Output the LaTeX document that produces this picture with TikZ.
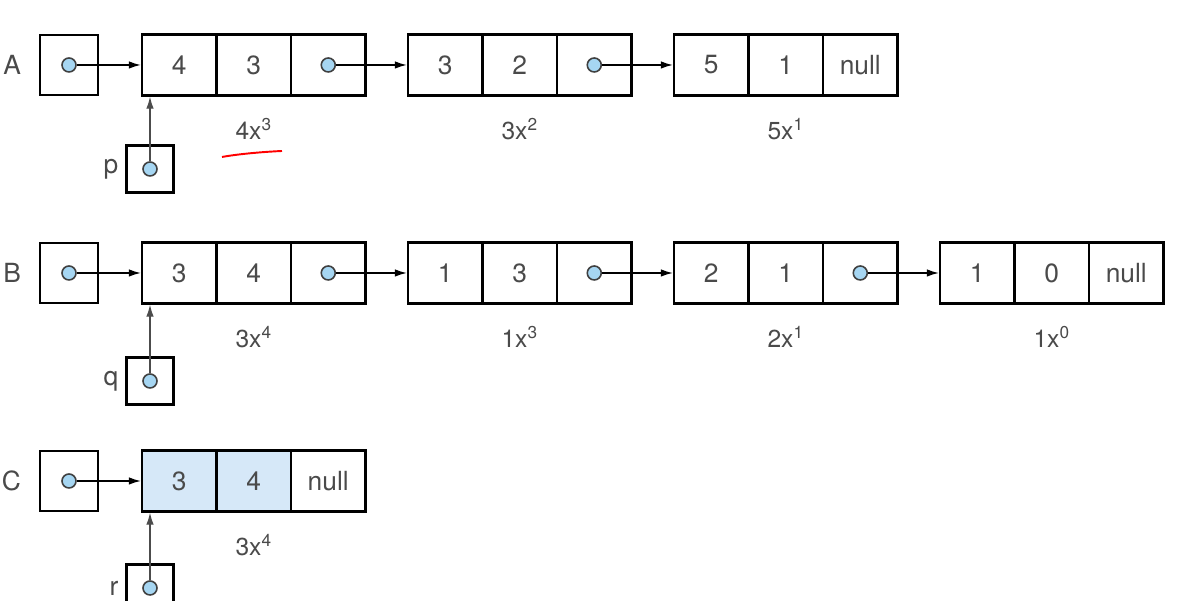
\documentclass[tikz,border=0pt]{standalone}
\usepackage{fontspec}
\setmainfont{TeX Gyre Heros}
\usetikzlibrary{positioning,arrows.meta}
\definecolor{txtgray}{HTML}{4A4A4A}
\definecolor{dotblue}{HTML}{A6D6F2}
\definecolor{cellblue}{HTML}{D6E8F8}
\begin{document}
\begin{tikzpicture}[
    cell/.style={draw,line width=1.3pt,minimum width=1.49cm,minimum height=1.22cm,
      inner sep=0pt,text=txtgray,font=\fontsize{15}{15}\selectfont},
    headbox/.style={draw,line width=1.1pt,minimum width=1.16cm,minimum height=1.2cm},
    ptrbox/.style={draw,line width=1.2pt,minimum size=0.94cm},
    dot/.style={circle,draw=black!75,fill=dotblue,line width=0.9pt,minimum size=0.28cm,inner sep=0pt},
    link/.style={-{Latex[length=2.4mm,width=1.5mm]},line width=0.8pt},
    uplink/.style={-{Latex[length=2.4mm,width=1.5mm]},line width=0.7pt,black!70},
    rowname/.style={text=txtgray,font=\fontsize{15}{15}\selectfont,inner sep=1pt},
    term/.style={text=txtgray,font=\fontsize{14}{14}\selectfont}]
  \useasboundingbox (0,0) rectangle (23.7,12.02);
  % head pointers
  \foreach \r/\y in {A/10.72,B/6.56,C/2.40}{
    \node[headbox] (\r) at (1.38,\y) {};
    \node[rowname,left=0.32cm of \r] {\r};
  }
  % list A
  \foreach \i/\c/\e/\l/\t in {1/4/3//{4x\textsuperscript{3}},2/3/2//{3x\textsuperscript{2}},3/5/1/null/{5x\textsuperscript{1}}}{
    \pgfmathsetmacro{\x}{2.84+(\i-1)*5.32}
    \node[cell] (A\i-c) at (\x+0.745,10.72) {\c};
    \node[cell] (A\i-e) at (\x+2.235,10.72) {\e};
    \node[cell] (A\i-l) at (\x+3.725,10.72) {\l};
    \node[term,below=0.3cm of A\i-e] {\t};
  }
  % list B
  \foreach \i/\c/\e/\l/\t in {1/3/4//{3x\textsuperscript{4}},2/1/3//{1x\textsuperscript{3}},3/2/1//{2x\textsuperscript{1}},4/1/0/null/{1x\textsuperscript{0}}}{
    \pgfmathsetmacro{\x}{2.84+(\i-1)*5.32}
    \node[cell] (B\i-c) at (\x+0.745,6.56) {\c};
    \node[cell] (B\i-e) at (\x+2.235,6.56) {\e};
    \node[cell] (B\i-l) at (\x+3.725,6.56) {\l};
    \node[term,below=0.3cm of B\i-e] {\t};
  }
  % list C (result)
  \node[cell,fill=cellblue] (C1-c) at (3.585,2.40) {3};
  \node[cell,fill=cellblue] (C1-e) at (5.075,2.40) {4};
  \node[cell] (C1-l) at (6.565,2.40) {null};
  \node[term,below=0.3cm of C1-e] {3x\textsuperscript{4}};
  % links
  \foreach \r in {A,B,C}{
    \node[dot] (\r-d) at (\r) {};
    \draw[link] (\r-d.east) -- (\r1-c.west);
  }
  \foreach \r/\i/\j in {A/1/2,A/2/3,B/1/2,B/2/3,B/3/4}{
    \node[dot] (\r\i-d) at (\r\i-l) {};
    \draw[link] (\r\i-d.east) -- (\r\j-c.west);
  }
  % p, q, r
  \foreach \v/\r/\y in {p/A/8.64,q/B/4.40,r/C/0.26}{
    \node[ptrbox] (\v) at (3.0,\y) {};
    \node[rowname,left=0.1cm of \v] {\v};
    \node[dot] (\v-d) at (\v) {};
    \draw[uplink] (\v-d.north) -- (\v-d |- \r1-c.south);
  }
  \draw[red,line width=1.1pt] (4.44,8.88) .. controls (4.7,8.93) and (5.2,8.98) .. (5.64,9.0);
\end{tikzpicture}
\end{document}
